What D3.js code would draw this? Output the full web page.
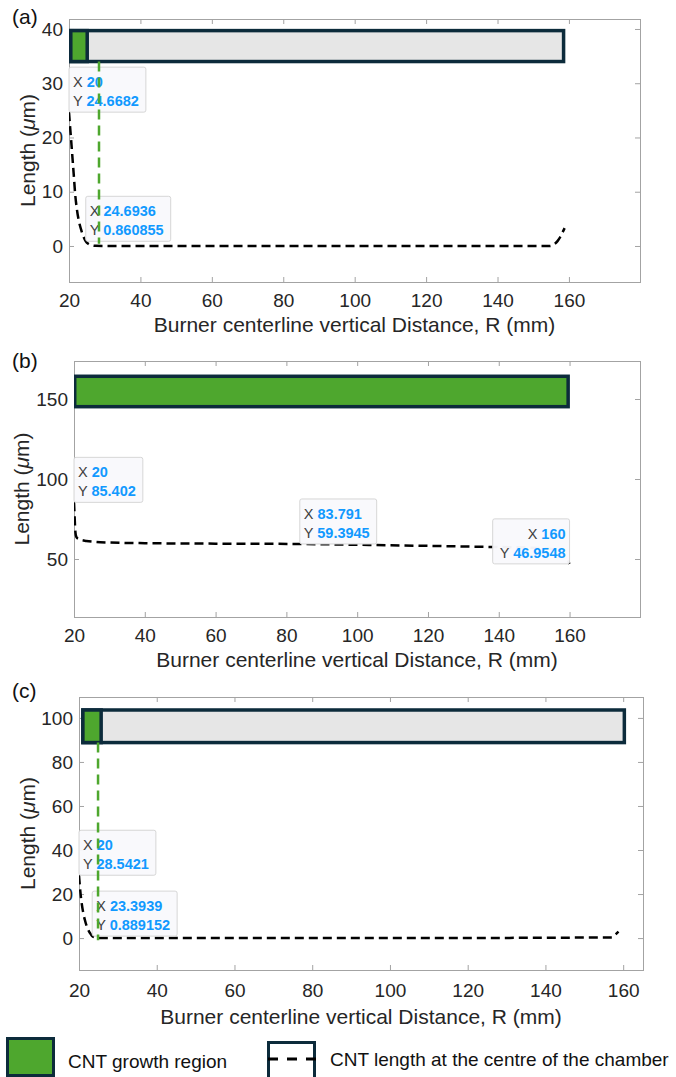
<!DOCTYPE html>
<html>
<head>
<meta charset="utf-8">
<script src="https://cdn.jsdelivr.net/npm/d3@7"></script>
<style>
  body { margin: 0; background: #fff; }
  svg { display: block; font-family: 'Liberation Sans', Arial, Helvetica, sans-serif; }
</style>
</head>
<body>
<div id="chart"></div>
<script>
// ---------- data ----------
const xTickValues = [20, 40, 60, 80, 100, 120, 140, 160];
const xTitle = 'Burner centerline vertical Distance, R (mm)';

// (a)
const aYTicks = [0, 10, 20, 30, 40];
const aR = [20, 20.3, 20.6, 21.0, 21.4, 21.7, 22.2, 22.8, 23.4, 24.0, 24.7, 25.4, 26.2, 27.5, 30, 60, 100, 154.6, 155.8, 156.8, 157.6, 158.2, 158.8];
const aL = [24.67, 22.0, 19.5, 16.0, 12.5, 9.8, 6.8, 4.5, 3.0, 1.8, 0.86, 0.4, 0.15, 0.03, 0, 0, 0, 0, 0.3, 0.9, 1.7, 2.5, 3.3];
const aChamber = [20.5, 158.5];   // grey box, R range
const aGrowth = [20.5, 25.1];     // green box, R range
const aBand = [34, 39.7];         // box extent on length axis
const aGuideR = 28.4;             // green dashed guide
const aGuideL = [34, 0.4];
const aTipR = [20, 24.6936];
const aTipL = [24.6682, 0.860855];

// (b)
const bYTicks = [50, 100, 150];
const bR = [20, 20.15, 20.3, 20.5, 20.8, 21.5, 23.5, 26, 30, 40, 60, 83.791, 100, 120, 136, 148, 155, 158, 160];
const bL = [85.402, 78, 70, 65, 63.3, 62.4, 61.3, 60.7, 60.3, 59.9, 59.6, 59.3945, 58.9, 58.2, 57.6, 57.1, 56.2, 53.5, 46.9548];
const bGrowth = [20.2, 159.6];
const bBand = [145.2, 164.2];
const bTipR = [20, 83.791, 160];
const bTipL = [85.402, 59.3945, 46.9548];

// (c)
const cYTicks = [0, 20, 40, 60, 80, 100];
const cR = [20, 20.25, 20.5, 20.8, 21.1, 21.5, 22.0, 22.5, 22.9, 23.3939, 24, 25, 26.5, 60, 100, 157.1, 157.6, 158.2, 158.8];
const cL = [28.5421, 23, 18.5, 14.5, 11.4, 8.3, 5.3, 3.3, 2.1, 0.889152, 0.35, 0.1, 0, 0, 0, 0.3, 1.0, 1.9, 2.9];
const cChamber = [21, 160.3];
const cGrowth = [21, 25.7];
const cBand = [88.8, 103.6];
const cGuideR = 24.9;
const cGuideL = [88.8, -1];
const cTipR = [20, 23.3939];
const cTipL = [28.5421, 0.889152];

const legendLabels = ['CNT growth region', 'CNT length at the centre of the chamber'];

// ---------- styles ----------
const green = '#4ea72e';
const edge = '#0c2b3b';
const grey = '#e6e6e6';
const axisColor = '#a3a3a3';
const textColor = '#262626';
const tipBlue = '#1199ff';

const W = 676, H = 1077;

const svg = d3.select('#chart').append('svg')
  .attr('width', W)
  .attr('height', H);

// layout of each panel (pixels)
const panels = [
  {
    tag: '(a)', tagY: 24,
    left: 69, right: 640, top: 19, bottom: 282,
    xDomain: [20, 179.9], yDomain: [-6.64, 41.84], yTicks: aYTicks,
    xPad: 11.5, titleDy: 50, yTitleX: 35,
    R: aR, L: aL,
    bars: [{r: aChamber, fill: grey}, {r: aGrowth, fill: green}], band: aBand,
    guide: {r: aGuideR, l: aGuideL},
    tips: aTipR.map((r, i) => ({r: r, l: aTipL[i], align: 'left'}))
  },
  {
    tag: '(b)', tagY: 368,
    left: 74, right: 640, top: 361, bottom: 617,
    xDomain: [20, 179.9], yDomain: [13.75, 173.75], yTicks: bYTicks,
    xPad: 11.5, titleDy: 50, yTitleX: 29,
    R: bR, L: bL,
    bars: [{r: bGrowth, fill: green}], band: bBand,
    guide: null,
    tips: bTipR.map((r, i) => ({r: r, l: bTipL[i], align: i === 2 ? 'right' : 'left'}))
  },
  {
    tag: '(c)', tagY: 698,
    left: 79, right: 643, top: 697, bottom: 970,
    xDomain: [20, 165.1], yDomain: [-14.5, 109.5], yTicks: cYTicks,
    xPad: 13.5, titleDy: 54, yTitleX: 35,
    R: cR, L: cL,
    bars: [{r: cChamber, fill: grey}, {r: cGrowth, fill: green}], band: cBand,
    guide: {r: cGuideR, l: cGuideL},
    tips: cTipR.map((r, i) => ({r: r, l: cTipL[i], align: 'left'}))
  }
];

panels.forEach((p, idx) => drawPanel(p, idx));
drawLegend();

function drawPanel(p, idx) {
  const x = d3.scaleLinear().domain(p.xDomain).range([p.left, p.right]);
  const y = d3.scaleLinear().domain(p.yDomain).range([p.bottom, p.top]);

  const g = svg.append('g').attr('class', 'panel');

  // clip to the axes box
  svg.append('clipPath').attr('id', 'clip' + idx)
    .append('rect')
    .attr('x', p.left).attr('y', p.top)
    .attr('width', p.right - p.left).attr('height', p.bottom - p.top);

  // ticks (inward, on all four sides)
  const bottomAxis = g.append('g')
    .attr('transform', 'translate(0,' + p.bottom + ')')
    .call(d3.axisBottom(x).tickValues(xTickValues).tickSizeInner(-5).tickSizeOuter(0).tickPadding(p.xPad));
  const topAxis = g.append('g')
    .attr('transform', 'translate(0,' + p.top + ')')
    .call(d3.axisTop(x).tickValues(xTickValues).tickSizeInner(-5).tickSizeOuter(0).tickFormat(''));
  const leftAxis = g.append('g')
    .attr('transform', 'translate(' + p.left + ',0)')
    .call(d3.axisLeft(y).tickValues(p.yTicks).tickSizeInner(-5).tickSizeOuter(0).tickPadding(6));
  const rightAxis = g.append('g')
    .attr('transform', 'translate(' + p.right + ',0)')
    .call(d3.axisRight(y).tickValues(p.yTicks).tickSizeInner(-5).tickSizeOuter(0).tickFormat(''));

  [bottomAxis, topAxis, leftAxis, rightAxis].forEach(a => {
    a.attr('font-family', null).attr('font-size', null);
    a.select('.domain').remove();
    a.selectAll('line').attr('stroke', axisColor);
    a.selectAll('text').attr('fill', textColor).style('font-size', '19px');
  });

  // axes box
  g.append('rect')
    .attr('x', p.left + 0.5).attr('y', p.top + 0.5)
    .attr('width', p.right - p.left).attr('height', p.bottom - p.top)
    .attr('fill', 'none')
    .attr('stroke', axisColor)
    .attr('stroke-width', 1);

  const plot = g.append('g').attr('clip-path', 'url(#clip' + idx + ')');

  // region boxes
  plot.selectAll('rect.region')
    .data(p.bars)
    .enter().append('rect')
      .attr('class', 'region')
      .attr('x', d => x(d.r[0]))
      .attr('width', d => x(d.r[1]) - x(d.r[0]))
      .attr('y', y(p.band[1]))
      .attr('height', y(p.band[0]) - y(p.band[1]))
      .attr('fill', d => d.fill)
      .attr('stroke', edge)
      .attr('stroke-width', 3.5);

  // CNT length curve
  const line = d3.line()
    .x(d => x(d[0]))
    .y(d => y(d[1]))
    .curve(d3.curveMonotoneX);

  plot.append('path')
    .datum(p.R.map((r, i) => [r, p.L[i]]))
    .attr('d', line)
    .attr('fill', 'none')
    .attr('stroke', '#000')
    .attr('stroke-width', 2.5)
    .attr('stroke-dasharray', '9,5');

  // data tips
  p.tips.forEach(t => drawTip(g, x(t.r), y(t.l), t.r, t.l, t.align));

  // green guide line
  if (p.guide) {
    g.append('line')
      .attr('x1', x(p.guide.r)).attr('x2', x(p.guide.r))
      .attr('y1', y(p.guide.l[0])).attr('y2', y(p.guide.l[1]))
      .attr('stroke', green)
      .attr('stroke-width', 2.5)
      .attr('stroke-dasharray', '10,6');
  }

  // titles
  g.append('text')
    .attr('x', (p.left + p.right) / 2)
    .attr('y', p.bottom + p.titleDy)
    .attr('text-anchor', 'middle')
    .attr('fill', textColor)
    .style('font-size', '21px')
    .text(xTitle);

  const yt = g.append('text')
    .attr('transform', 'translate(' + p.yTitleX + ',' + ((p.top + p.bottom) / 2) + ') rotate(-90)')
    .attr('text-anchor', 'middle')
    .attr('fill', textColor)
    .style('font-size', '21px');
  yt.append('tspan').text('Length (');
  yt.append('tspan').style('font-style', 'italic').text('\u03bc');
  yt.append('tspan').text('m)');

  g.append('text')
    .attr('x', 12)
    .attr('y', p.tagY)
    .attr('fill', '#111')
    .style('font-size', '21px')
    .text(p.tag);
}

function drawTip(g, px, py, r, l, align) {
  const tip = g.append('g').attr('class', 'datatip');
  const box = tip.append('rect')
    .attr('fill', '#f9f9fc')
    .attr('fill-opacity', 0.97)
    .attr('stroke', '#d6d6d6')
    .attr('stroke-width', 1)
    .attr('rx', 2);

  const rows = [['X', String(r)], ['Y', String(l)]];
  const h = 45;
  const anchor = align === 'right' ? 'end' : 'start';
  const tx = align === 'right' ? px - 4 : px + 4;

  const texts = tip.selectAll('text')
    .data(rows)
    .enter().append('text')
      .attr('x', tx)
      .attr('y', (d, i) => py - h + 20 + i * 19)
      .attr('text-anchor', anchor)
      .style('font-size', '14.5px');
  texts.append('tspan').attr('fill', '#404040').text(d => d[0] + ' ');
  texts.append('tspan').attr('fill', tipBlue).style('font-weight', 'bold').text(d => d[1]);

  let w = 0;
  texts.each(function() { w = Math.max(w, this.getComputedTextLength()); });
  w += 11;

  box.attr('x', align === 'right' ? px - w : px)
    .attr('y', py - h)
    .attr('width', w)
    .attr('height', h);
}

function drawLegend() {
  const lg = svg.append('g').attr('class', 'legend');

  lg.append('rect')
    .attr('x', 7.5).attr('y', 1038.5)
    .attr('width', 46).attr('height', 37)
    .attr('fill', green)
    .attr('stroke', edge)
    .attr('stroke-width', 3);

  lg.append('text')
    .attr('x', 68).attr('y', 1068)
    .attr('fill', '#111')
    .style('font-size', '19px')
    .text(legendLabels[0]);

  lg.append('rect')
    .attr('x', 268.5).attr('y', 1042.5)
    .attr('width', 46).attr('height', 50)
    .attr('fill', '#fff')
    .attr('stroke', edge)
    .attr('stroke-width', 3);

  lg.append('line')
    .attr('x1', 268).attr('x2', 316)
    .attr('y1', 1059).attr('y2', 1059)
    .attr('stroke', '#000')
    .attr('stroke-width', 3)
    .attr('stroke-dasharray', '10,9');

  lg.append('text')
    .attr('x', 330).attr('y', 1066)
    .attr('fill', '#111')
    .style('font-size', '19px')
    .text(legendLabels[1]);
}
</script>
</body>
</html>
